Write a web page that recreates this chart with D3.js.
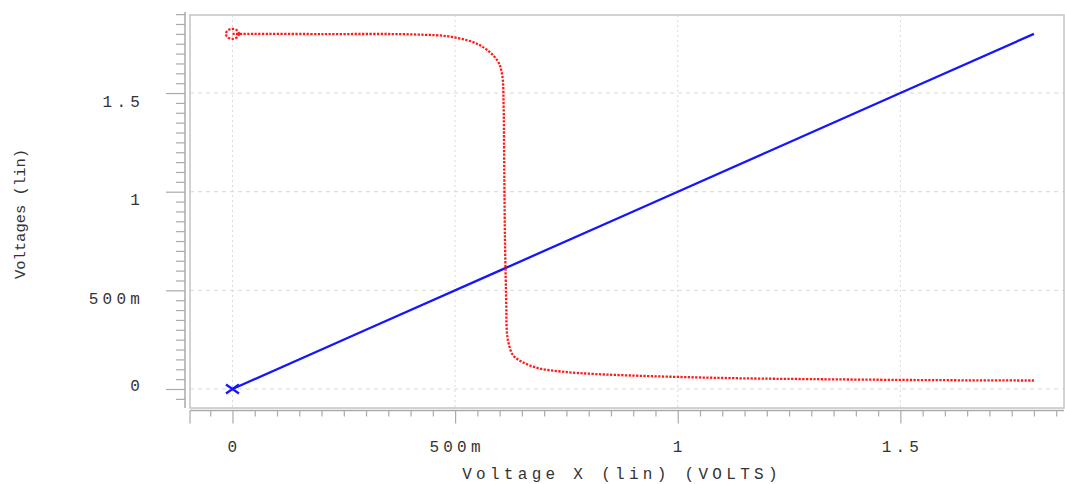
<!DOCTYPE html>
<html>
<head>
<meta charset="utf-8">
<script src="https://cdn.jsdelivr.net/npm/d3@7"></script>
<style>
  html, body { margin: 0; padding: 0; background: #fff; }
  svg { display: block; }
  text { font-family: "Liberation Mono", "DejaVu Sans Mono", monospace; fill: #333; }
</style>
</head>
<body>
<svg id="chart" width="1065" height="484"></svg>
<script>
// ---- data ----
const xTickValues = [0, 0.5, 1, 1.5];
const xTickLabels = ["0", "500m", "1", "1.5"];
const yTickValues = [0, 0.5, 1, 1.5];
const yTickLabels = ["0", "500m", "1", "1.5"];

// blue series: input voltage (linear sweep)
const blueX = [0, 0.3, 0.6, 0.9, 1.2, 1.5, 1.8];
const blueY = [0, 0.3, 0.6, 0.9, 1.2, 1.5, 1.8];

// red series: output voltage (transfer curve)
const redX = [0, 0.2, 0.406, 0.494, 0.556, 0.594, 0.605, 0.609, 0.610, 0.612, 0.615, 0.616, 0.620, 0.630, 0.650, 0.686, 0.740, 0.815, 0.927, 1.039, 1.147, 1.3, 1.5, 1.65, 1.8];
const redY = [1.8, 1.799, 1.797, 1.784, 1.742, 1.668, 1.602, 1.429, 1.211, 0.755, 0.416, 0.299, 0.233, 0.172, 0.138, 0.106, 0.088, 0.076, 0.066, 0.059, 0.054, 0.050, 0.046, 0.044, 0.043];

const xTitle = "Voltage X (lin) (VOLTS)";
const yTitle = "Voltages (lin)";

// ---- layout ----
const svg = d3.select("#chart");
const frame = {left: 190, top: 15, right: 1064, bottom: 408};

const x = d3.scaleLinear().domain([-0.0954, 1.8675]).range([frame.left, frame.right]);
const y = d3.scaleLinear().domain([-0.0963, 1.8956]).range([frame.bottom, frame.top]);

const axisColor = "#aaa";

// grid
const grid = svg.append("g");
grid.selectAll("line.h").data(yTickValues).join("line")
  .attr("x1", frame.left).attr("x2", frame.right)
  .attr("y1", d => y(d)).attr("y2", d => y(d))
  .attr("stroke", "#d8d8d8").attr("stroke-width", 1).attr("stroke-dasharray", "4,4");
grid.selectAll("line.v").data(xTickValues).join("line")
  .attr("y1", frame.top).attr("y2", frame.bottom)
  .attr("x1", d => x(d)).attr("x2", d => x(d))
  .attr("stroke", "#d8d8d8").attr("stroke-width", 1).attr("stroke-dasharray", "2,3");

// frame
svg.append("rect")
  .attr("x", frame.left).attr("y", frame.top)
  .attr("width", frame.right - frame.left).attr("height", frame.bottom - frame.top)
  .attr("fill", "none").attr("stroke", "#c4c4c4").attr("stroke-width", 1.5);

// y axis (separate line left of frame)
const yAxisX = 185;
const yMinor = d3.range(-0.05, 1.92, 0.05).map(v => Math.round(v * 100) / 100).filter(v => !yTickValues.includes(v));
const yAx = svg.append("g").attr("transform", `translate(${yAxisX},0)`);
yAx.call(d3.axisLeft(y).tickValues(yMinor).tickSize(9).tickFormat(""));
const yAxMaj = svg.append("g").attr("transform", `translate(${yAxisX},0)`);
yAxMaj.call(d3.axisLeft(y).tickValues(yTickValues).tickSize(19).tickFormat(""));
[yAx, yAxMaj].forEach(g => {
  g.select(".domain").remove();
  g.selectAll("line").attr("stroke", axisColor).attr("stroke-width", 1.2);
});
svg.append("line").attr("x1", yAxisX).attr("x2", yAxisX)
  .attr("y1", 12).attr("y2", frame.bottom)
  .attr("stroke", axisColor).attr("stroke-width", 1.5);

yTickValues.forEach((v, i) => {
  svg.append("text")
    .attr("x", 144).attr("y", y(v) + (v === 0 ? 1.5 : 13.5))
    .attr("text-anchor", "end")
    .attr("font-size", 16)
    .attr("letter-spacing", 4.2)
    .text(yTickLabels[i]);
});

// x axis (separate line below frame)
const xAxisY = 410.5;
const xMinor = d3.range(-0.05, 1.87, 0.05).map(v => Math.round(v * 100) / 100).filter(v => !xTickValues.includes(v));
const xAx = svg.append("g").attr("transform", `translate(0,${xAxisY})`);
xAx.call(d3.axisBottom(x).tickValues(xMinor).tickSize(6).tickFormat(""));
const xAxMaj = svg.append("g").attr("transform", `translate(0,${xAxisY})`);
xAxMaj.call(d3.axisBottom(x).tickValues(xTickValues).tickSize(13).tickFormat(""));
[xAx, xAxMaj].forEach(g => {
  g.select(".domain").remove();
  g.selectAll("line").attr("stroke", axisColor).attr("stroke-width", 1.2);
});
svg.append("line").attr("x1", frame.left).attr("x2", frame.right)
  .attr("y1", xAxisY).attr("y2", xAxisY)
  .attr("stroke", axisColor).attr("stroke-width", 1.5);
svg.append("line").attr("x1", frame.left).attr("x2", frame.left)
  .attr("y1", xAxisY).attr("y2", xAxisY + 13)
  .attr("stroke", axisColor).attr("stroke-width", 1.2);

xTickValues.forEach((v, i) => {
  svg.append("text")
    .attr("x", x(v) + 2).attr("y", 452)
    .attr("text-anchor", "middle")
    .attr("font-size", 16)
    .attr("letter-spacing", 4.2)
    .text(xTickLabels[i]);
});

// titles
svg.append("text")
  .attr("x", 622).attr("y", 479)
  .attr("text-anchor", "middle")
  .attr("font-size", 16)
  .attr("letter-spacing", 4.3)
  .text(xTitle);
svg.append("text")
  .attr("transform", `translate(25,214) rotate(-90)`)
  .attr("text-anchor", "middle")
  .attr("font-size", 15.5)
  .text(yTitle);

// series
const line = d3.line().x(d => x(d[0])).y(d => y(d[1]));

svg.append("path")
  .datum(blueX.map((v, i) => [v, blueY[i]]))
  .attr("d", line)
  .attr("fill", "none").attr("stroke", "#1515ff").attr("stroke-width", 2.3);

svg.append("path")
  .datum(redX.map((v, i) => [v, redY[i]]))
  .attr("d", d3.line().x(d => x(d[0])).y(d => y(d[1])).curve(d3.curveCatmullRom.alpha(0.5)))
  .attr("fill", "none").attr("stroke", "#ff1a1a").attr("stroke-width", 2.3)
  .attr("stroke-dasharray", "2.3,1.4");

// markers
const bx = x(blueX[0]), by = y(blueY[0]);
svg.append("path")
  .attr("d", `M${bx - 6.5},${by - 4.5}L${bx + 6.5},${by + 4.5}M${bx - 6.5},${by + 4.5}L${bx + 6.5},${by - 4.5}`)
  .attr("stroke", "#1515ff").attr("stroke-width", 2.2).attr("fill", "none");

svg.append("ellipse")
  .attr("cx", x(redX[0])).attr("cy", y(redY[0]))
  .attr("rx", 6.5).attr("ry", 5)
  .attr("fill", "none").attr("stroke", "#ff1a1a").attr("stroke-width", 2.2)
  .attr("stroke-dasharray", "2.3,1.4");
</script>
</body>
</html>
